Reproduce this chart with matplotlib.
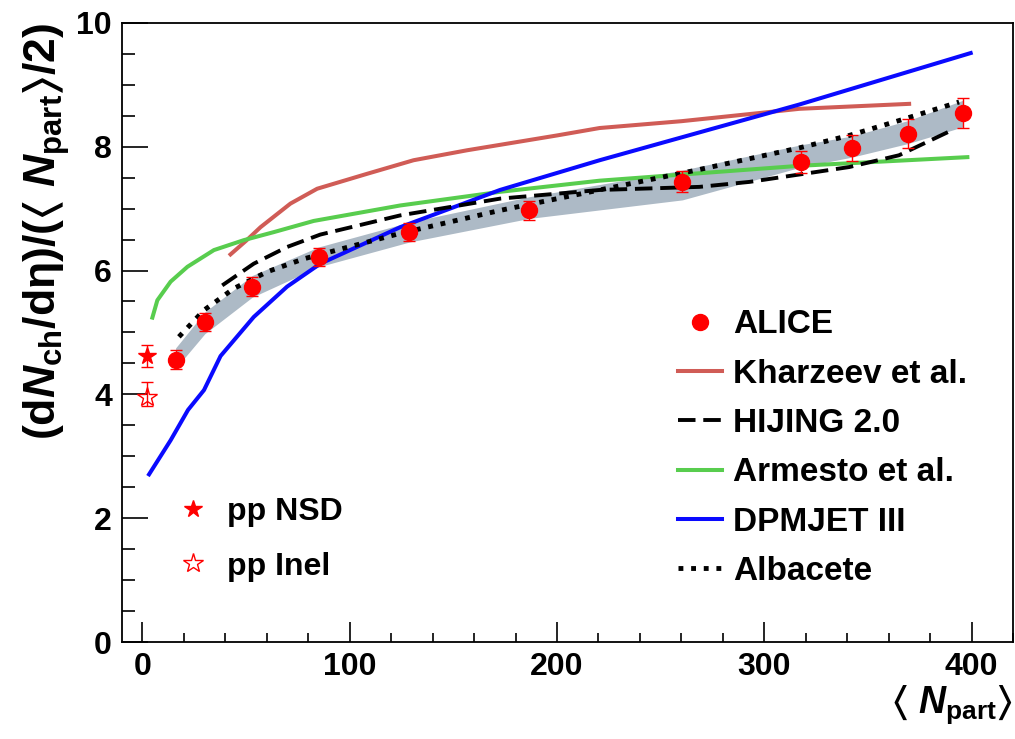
import numpy as np
import matplotlib
matplotlib.use('Agg')
import matplotlib.pyplot as plt
from matplotlib.ticker import MultipleLocator
from matplotlib.lines import Line2D

plt.rcParams['font.family'] = 'Liberation Sans'
plt.rcParams['font.weight'] = 'bold'
plt.rcParams['mathtext.fontset'] = 'custom'
plt.rcParams['mathtext.rm'] = 'Liberation Sans:bold'
plt.rcParams['mathtext.it'] = 'Liberation Sans:bold:italic'
plt.rcParams['mathtext.bf'] = 'Liberation Sans:bold'
plt.rcParams['mathtext.fallback'] = 'stixsans'

# ALICE Pb-Pb points
alice_npart = [16.0, 30.1, 53.0, 85.0, 128.8, 186.5, 260.5, 317.8, 342.3, 369.4, 396.0]
alice_val = [4.56, 5.17, 5.74, 6.22, 6.62, 6.97, 7.43, 7.75, 7.97, 8.21, 8.54]
alice_err = [0.15, 0.14, 0.15, 0.15, 0.15, 0.15, 0.17, 0.18, 0.21, 0.24, 0.24]

# correlated uncertainty band
band_lo = [4.42, 4.98, 5.57, 6.06, 6.46, 6.84, 7.14, 7.67, 7.83, 8.05, 8.32]
band_hi = [4.75, 5.33, 5.92, 6.38, 6.78, 7.19, 7.62, 8.03, 8.17, 8.42, 8.75]

# pp reference
pp_nsd_x, pp_nsd_y, pp_nsd_err = [2.1], [4.62], [0.17]
pp_inel_x, pp_inel_y = [2.4], [3.96]
pp_inel_lo, pp_inel_hi = [0.15], [0.24]

# model curves
kharzeev_x = [42.5, 50, 57, 71.4, 84.3, 108.3, 130.8, 156.5, 200, 220.6, 260, 300, 317, 369.9]
kharzeev_y = [6.26, 6.48, 6.70, 7.08, 7.32, 7.56, 7.78, 7.94, 8.18, 8.30, 8.41, 8.55, 8.61, 8.69]

hijing_x = [38.5, 53.7, 69.8, 85.8, 124.4, 172.5, 220.6, 268.7, 292.8, 317, 341, 365, 389]
hijing_y = [5.76, 6.11, 6.38, 6.58, 6.89, 7.16, 7.30, 7.35, 7.43, 7.55, 7.67, 7.86, 8.24]

armesto_x = [4.8, 7.2, 13.6, 21.7, 34.5, 48.9, 63.4, 82.6, 124.4, 172.5, 220.6, 317, 398]
armesto_y = [5.24, 5.52, 5.82, 6.06, 6.33, 6.49, 6.62, 6.80, 7.05, 7.27, 7.45, 7.69, 7.83]

dpmjet_x = [3.2, 13.6, 22, 29.7, 37.7, 53.7, 69.8, 85.8, 124.4, 172.5, 220.6, 317, 399.6]
dpmjet_y = [2.71, 3.26, 3.75, 4.07, 4.62, 5.25, 5.74, 6.11, 6.70, 7.30, 7.78, 8.68, 9.51]

albacete_x = [17.6, 29.7, 44.1, 60.2, 78, 124.4, 172.5, 220.6, 268.7, 317, 341, 365, 394]
albacete_y = [4.93, 5.36, 5.71, 5.98, 6.19, 6.60, 6.97, 7.30, 7.63, 7.98, 8.18, 8.42, 8.72]

c_khar = '#d05c56'
c_arm = '#58cd4e'
c_dpm = '#0a0aff'
c_band = '#adbac6'

fig = plt.figure(figsize=(10.15, 7.39), dpi=100)
ax = fig.add_axes([0.1199, 0.1309, 0.8781, 0.8384])

ax.fill_between(alice_npart, band_lo, band_hi, color=c_band, lw=0, zorder=1)

ax.plot(kharzeev_x, kharzeev_y, color=c_khar, lw=2.9, zorder=2)
ax.plot(armesto_x, armesto_y, color=c_arm, lw=2.9, zorder=2)
ax.plot(dpmjet_x, dpmjet_y, color=c_dpm, lw=2.9, zorder=2)
ax.plot(hijing_x, hijing_y, color='black', lw=2.8, dashes=(4.5, 2), zorder=3)
ax.plot(albacete_x, albacete_y, color='black', lw=3.5, dashes=(1, 1.6),
        dash_capstyle='butt', zorder=3)

ax.errorbar(alice_npart, alice_val, yerr=alice_err, fmt='o', color='red', ms=11.5,
            elinewidth=1, capsize=4, capthick=1, zorder=4)
ax.errorbar(pp_nsd_x, pp_nsd_y, yerr=pp_nsd_err, fmt='*', color='red', ms=13,
            elinewidth=1, capsize=4, capthick=1, zorder=4)
ax.errorbar(pp_inel_x, pp_inel_y, yerr=[pp_inel_lo, pp_inel_hi], fmt='*', color='red',
            mfc='none', mec='red', mew=1, ms=15, elinewidth=1, capsize=4, capthick=1, zorder=4)

ax.set_xlim(-10, 420)
ax.set_ylim(0, 10)
ax.set_xticks([0, 100, 200, 300, 400])
ax.set_yticks([0, 2, 4, 6, 8, 10])
ax.xaxis.set_minor_locator(MultipleLocator(20))
ax.yaxis.set_minor_locator(MultipleLocator(0.5))
ax.tick_params(which='both', direction='in', top=False, right=False, width=1.2,
               labelsize=23, pad=7)
ax.tick_params(axis='x', which='major', length=14.4)
ax.tick_params(axis='x', which='minor', length=6.5)
ax.tick_params(axis='y', which='major', length=18.7)
ax.tick_params(axis='y', which='minor', length=9.4)
for s in ax.spines.values():
    s.set_linewidth(1.3)

ax.set_ylabel(r'$(\mathrm{d}\mathit{N}_{\mathrm{ch}}/\mathrm{d}\mathrm{\eta})/(\langle\ \mathit{N}_{\mathrm{part}}\rangle/2)$',
              fontsize=32, loc='top')
ax.yaxis.set_label_coords(-0.056, 1.0)
ax.set_xlabel(r'$\langle\ \mathit{N}_{\mathrm{part}}\rangle$', fontsize=27, loc='right', labelpad=1)

models = [
    Line2D([], [], ls='none', marker='o', color='red', ms=11.5),
    Line2D([], [], color=c_khar, lw=2.9),
    Line2D([], [], color='black', lw=2.8, dashes=(4.5, 2)),
    Line2D([], [], color=c_arm, lw=2.9),
    Line2D([], [], color=c_dpm, lw=2.9),
    Line2D([], [], color='black', lw=3.5, dashes=(1, 1.6), dash_capstyle='butt'),
]
names = ['ALICE', 'Kharzeev et al.', 'HIJING 2.0', 'Armesto et al.', 'DPMJET III', 'Albacete']
leg1 = ax.legend(models, names, loc='upper left', bbox_to_anchor=(0.668, 0.5813),
                 bbox_transform=fig.transFigure, frameon=False, fontsize=24,
                 borderpad=0, borderaxespad=0, handlelength=1.32, handletextpad=0.33,
                 labelspacing=0.55)
ax.add_artist(leg1)

pp = [
    Line2D([], [], ls='none', marker='*', color='red', ms=13),
    Line2D([], [], ls='none', marker='*', mfc='none', mec='red', mew=1, ms=15),
]
ax.legend(pp, ['pp NSD', 'pp Inel'], loc='upper left', bbox_to_anchor=(0.1744, 0.3276),
          bbox_transform=fig.transFigure, frameon=False, fontsize=23,
          borderpad=0, borderaxespad=0, handlelength=1.0, handletextpad=0.57,
          labelspacing=0.77)

fig.savefig('out.png', dpi=100)
